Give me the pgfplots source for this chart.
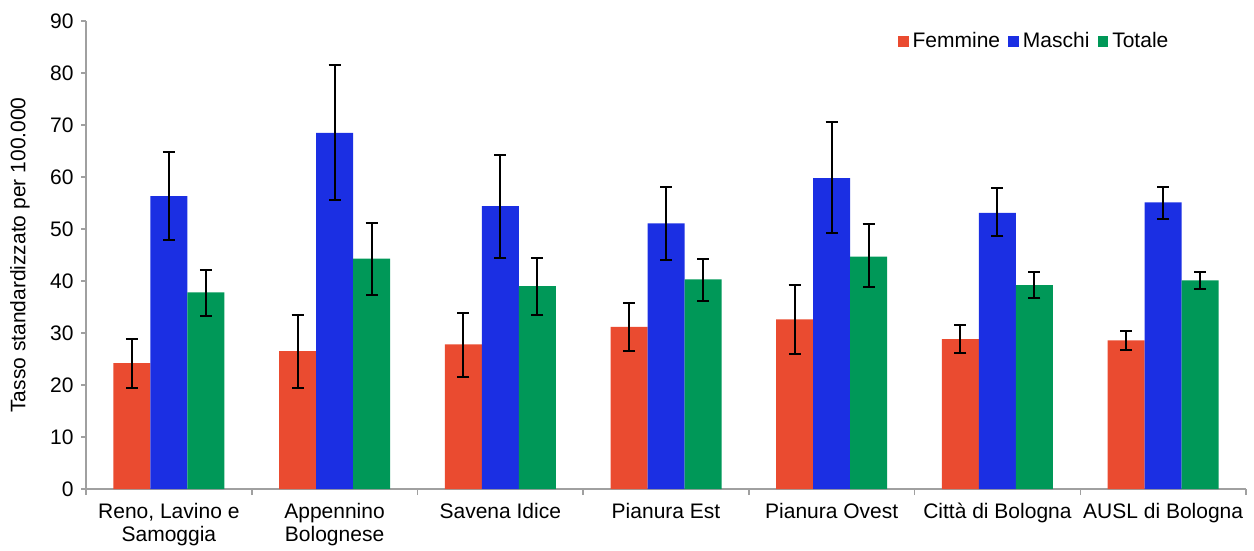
\documentclass[border=0pt]{standalone}
\usepackage{fontspec}
\setmainfont{Liberation Sans}
\usepackage{pgfplots}
\pgfplotsset{compat=1.18}
\definecolor{cF}{RGB}{234,75,48}
\definecolor{cM}{RGB}{27,47,227}
\definecolor{cT}{RGB}{0,152,88}
\definecolor{axgray}{RGB}{160,160,160}
\begin{document}
\fontsize{10.5pt}{12.5pt}\selectfont
\begin{tikzpicture}
\begin{axis}[
  scale only axis, width=580pt, height=234pt,
  ymin=0, ymax=90, ytick={0,10,...,90},
  xmin=-0.5, xmax=6.5,
  xtick={0,...,6},
  xticklabels={{Reno, Lavino e\\Samoggia},{Appennino\\Bolognese},{Savena Idice},{Pianura Est},{Pianura Ovest},{Città di Bologna},{AUSL di Bologna}},
  xticklabel style={align=center, font=\fontsize{10.5pt}{11.5pt}\selectfont, yshift=-1pt},
  yticklabel style={font=\fontsize{10.5pt}{12pt}\selectfont},
  minor xtick={-0.5,0.5,...,6.5},
  major x tick style={draw=none},
  minor tick length=3pt,
  major tick length=2.5pt,
  tick align=outside,
  axis x line*=bottom, axis y line*=left,
  axis line style={axgray, line width=0.8pt},
  every tick/.style={axgray, line width=0.8pt},
  /pgf/number format/assume math mode=true,
  ylabel={Tasso standardizzato per 100.000},
  ylabel style={font=\fontsize{10.5pt}{12pt}\selectfont, yshift=3pt},
  ybar=0pt, bar width=18.5pt,
  legend style={at={(0.942,0.994)}, anchor=north east, draw=none, fill=none,
    legend columns=3, font=\fontsize{10.5pt}{12pt}\selectfont,
    /tikz/every even column/.append style={column sep=2pt}},
  legend image code/.code={\fill[#1] (0pt,-2.7pt) rectangle (5.4pt,2.7pt);},
  error bars/y dir=both, error bars/y explicit,
  error bars/error bar style={black, line width=1pt},
  error bars/error mark options={rotate=90, mark size=3pt, line width=1pt, black},
  clip=false,
]
\addplot[fill=cF, draw=none] coordinates {
 (0,24.2) +=(0,4.6) -=(0,4.8)
 (1,26.5) +=(0,7.0) -=(0,7.1)
 (2,27.8) +=(0,6.0) -=(0,6.2)
 (3,31.2) +=(0,4.6) -=(0,4.7)
 (4,32.6) +=(0,6.6) -=(0,6.7)
 (5,28.8) +=(0,2.7) -=(0,2.7)
 (6,28.6) +=(0,1.8) -=(0,1.9)
};
\addplot[fill=cM, draw=none] coordinates {
 (0,56.3) +=(0,8.6) -=(0,8.4)
 (1,68.5) +=(0,13.0) -=(0,13.0)
 (2,54.4) +=(0,9.8) -=(0,9.9)
 (3,51.1) +=(0,7.0) -=(0,7.0)
 (4,59.8) +=(0,10.7) -=(0,10.6)
 (5,53.1) +=(0,4.7) -=(0,4.4)
 (6,55.1) +=(0,3.0) -=(0,3.1)
};
\addplot[fill=cT, draw=none] coordinates {
 (0,37.8) +=(0,4.4) -=(0,4.6)
 (1,44.3) +=(0,6.9) -=(0,6.9)
 (2,39.0) +=(0,5.5) -=(0,5.5)
 (3,40.3) +=(0,4.0) -=(0,4.1)
 (4,44.7) +=(0,6.2) -=(0,5.9)
 (5,39.2) +=(0,2.6) -=(0,2.5)
 (6,40.1) +=(0,1.7) -=(0,1.7)
};
\legend{Femmine,Maschi,Totale}
\coordinate (ll) at (rel axis cs:0,0);
\coordinate (ur) at (rel axis cs:1,1);
\end{axis}
\pgfresetboundingbox
\path (ll) ++(-43pt,-30.5pt) rectangle (ur) ++(4pt,10.5pt);
\end{tikzpicture}
\end{document}
